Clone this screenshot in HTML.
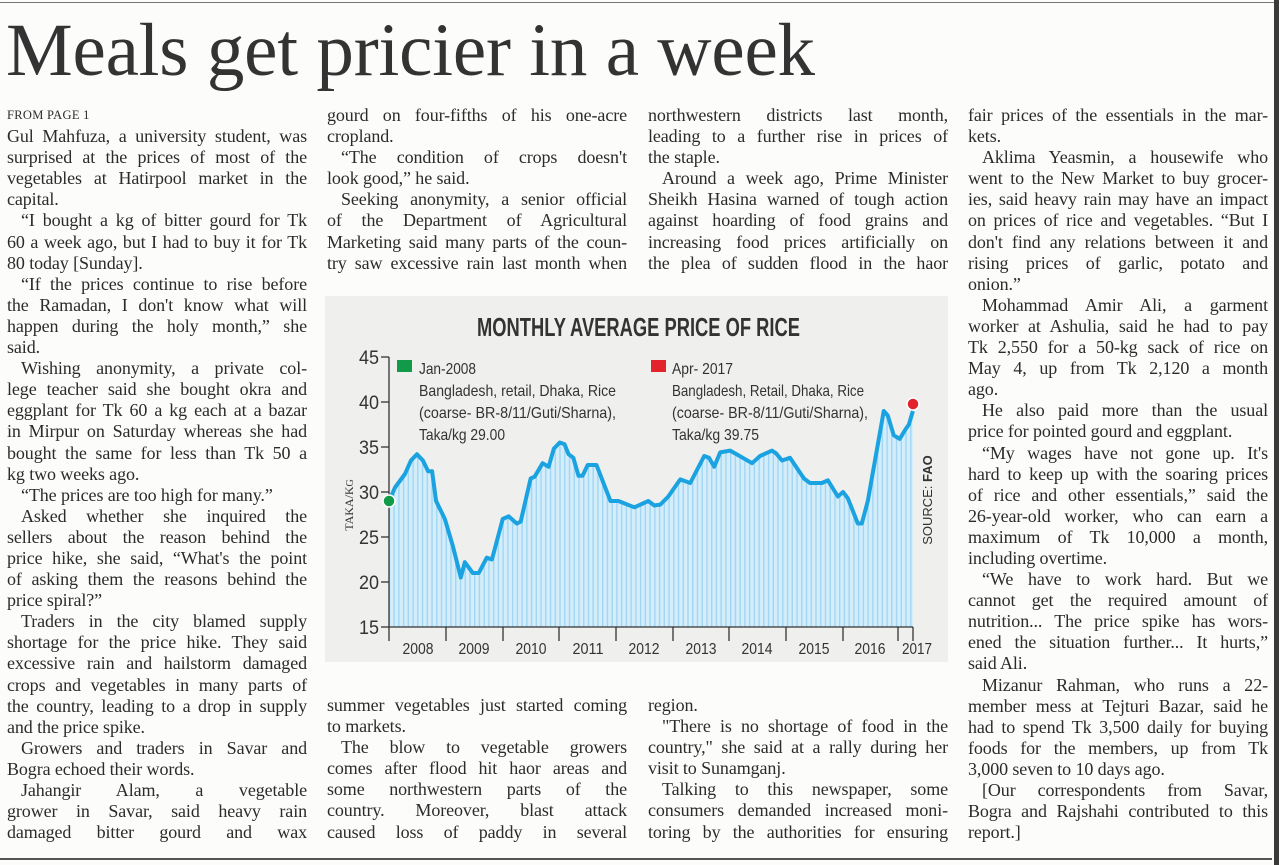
<!DOCTYPE html>
<html><head><meta charset="utf-8">
<style>
html,body{margin:0;padding:0;background:#fcfcfb;}
body{width:1279px;height:865px;position:relative;overflow:hidden;color:#2b2b2b;font-family:"Liberation Serif",serif;}
.h{position:absolute;left:6px;top:8px;font-size:75px;line-height:86px;color:#333;white-space:nowrap;letter-spacing:-0.2px;}
.col{position:absolute;width:300px;}
.l{height:21.1px;line-height:21.1px;font-size:18px;white-space:nowrap;text-align:justify;text-align-last:justify;letter-spacing:-0.1px;}
.e{text-align:left;text-align-last:left;}
.i{padding-left:14px;}
.fp{font-size:12.5px;letter-spacing:0.3px;}
.rule{position:absolute;background:#555;}
</style></head><body>
<div class="rule" style="left:0;top:2px;width:1279px;height:1px;background:#777"></div>
<div class="h">Meals get pricier in a week</div>

<div class="col" style="left:7px;top:105px">
<div class="l e fp">FROM PAGE 1</div>
<div class="l">Gul Mahfuza, a university student, was</div>
<div class="l">surprised at the prices of most of the</div>
<div class="l">vegetables at Hatirpool market in the</div>
<div class="l e">capital.</div>
<div class="l i">“I bought a kg of bitter gourd for Tk</div>
<div class="l">60 a week ago, but I had to buy it for Tk</div>
<div class="l e">80 today [Sunday].</div>
<div class="l i">“If the prices continue to rise before</div>
<div class="l">the Ramadan, I don't know what will</div>
<div class="l">happen during the holy month,” she</div>
<div class="l e">said.</div>
<div class="l i">Wishing anonymity, a private col-</div>
<div class="l">lege teacher said she bought okra and</div>
<div class="l">eggplant for Tk 60 a kg each at a bazar</div>
<div class="l">in Mirpur on Saturday whereas she had</div>
<div class="l">bought the same for less than Tk 50 a</div>
<div class="l e">kg two weeks ago.</div>
<div class="l e i">“The prices are too high for many.”</div>
<div class="l i">Asked whether she inquired the</div>
<div class="l">sellers about the reason behind the</div>
<div class="l">price hike, she said, “What's the point</div>
<div class="l">of asking them the reasons behind the</div>
<div class="l e">price spiral?”</div>
<div class="l i">Traders in the city blamed supply</div>
<div class="l">shortage for the price hike. They said</div>
<div class="l">excessive rain and hailstorm damaged</div>
<div class="l">crops and vegetables in many parts of</div>
<div class="l">the country, leading to a drop in supply</div>
<div class="l e">and the price spike.</div>
<div class="l i">Growers and traders in Savar and</div>
<div class="l e">Bogra echoed their words.</div>
<div class="l i">Jahangir Alam, a vegetable</div>
<div class="l">grower in Savar, said heavy rain</div>
<div class="l">damaged bitter gourd and wax</div>
</div>

<div class="col" style="left:327px;top:105px">
<div class="l">gourd on four-fifths of his one-acre</div>
<div class="l e">cropland.</div>
<div class="l i">“The condition of crops doesn't</div>
<div class="l e">look good,” he said.</div>
<div class="l i">Seeking anonymity, a senior official</div>
<div class="l">of the Department of Agricultural</div>
<div class="l">Marketing said many parts of the coun-</div>
<div class="l">try saw excessive rain last month when</div>
</div>
<div class="col" style="left:327px;top:695px">
<div class="l">summer vegetables just started coming</div>
<div class="l e">to markets.</div>
<div class="l i">The blow to vegetable growers</div>
<div class="l">comes after flood hit haor areas and</div>
<div class="l">some northwestern parts of the</div>
<div class="l">country. Moreover, blast attack</div>
<div class="l">caused loss of paddy in several</div>
</div>

<div class="col" style="left:648px;top:105px">
<div class="l">northwestern districts last month,</div>
<div class="l">leading to a further rise in prices of</div>
<div class="l e">the staple.</div>
<div class="l i">Around a week ago, Prime Minister</div>
<div class="l">Sheikh Hasina warned of tough action</div>
<div class="l">against hoarding of food grains and</div>
<div class="l">increasing food prices artificially on</div>
<div class="l">the plea of sudden flood in the haor</div>
</div>
<div class="col" style="left:648px;top:695px">
<div class="l e">region.</div>
<div class="l i">"There is no shortage of food in the</div>
<div class="l">country," she said at a rally during her</div>
<div class="l e">visit to Sunamganj.</div>
<div class="l i">Talking to this newspaper, some</div>
<div class="l">consumers demanded increased moni-</div>
<div class="l">toring by the authorities for ensuring</div>
</div>

<div class="col" style="left:968px;top:105px">
<div class="l">fair prices of the essentials in the mar-</div>
<div class="l e">kets.</div>
<div class="l i">Aklima Yeasmin, a housewife who</div>
<div class="l">went to the New Market to buy grocer-</div>
<div class="l">ies, said heavy rain may have an impact</div>
<div class="l">on prices of rice and vegetables. “But I</div>
<div class="l">don't find any relations between it and</div>
<div class="l">rising prices of garlic, potato and</div>
<div class="l e">onion.”</div>
<div class="l i">Mohammad Amir Ali, a garment</div>
<div class="l">worker at Ashulia, said he had to pay</div>
<div class="l">Tk 2,550 for a 50-kg sack of rice on</div>
<div class="l">May 4, up from Tk 2,120 a month</div>
<div class="l e">ago.</div>
<div class="l i">He also paid more than the usual</div>
<div class="l e">price for pointed gourd and eggplant.</div>
<div class="l i">“My wages have not gone up. It's</div>
<div class="l">hard to keep up with the soaring prices</div>
<div class="l">of rice and other essentials,” said the</div>
<div class="l">26-year-old worker, who can earn a</div>
<div class="l">maximum of Tk 10,000 a month,</div>
<div class="l e">including overtime.</div>
<div class="l i">“We have to work hard. But we</div>
<div class="l">cannot get the required amount of</div>
<div class="l">nutrition... The price spike has wors-</div>
<div class="l">ened the situation further... It hurts,”</div>
<div class="l e">said Ali.</div>
<div class="l i">Mizanur Rahman, who runs a 22-</div>
<div class="l">member mess at Tejturi Bazar, said he</div>
<div class="l">had to spend Tk 3,500 daily for buying</div>
<div class="l">foods for the members, up from Tk</div>
<div class="l e">3,000 seven to 10 days ago.</div>
<div class="l i">[Our correspondents from Savar,</div>
<div class="l">Bogra and Rajshahi contributed to this</div>
<div class="l e">report.]</div>
</div>

<div class="rule" style="left:0;top:858px;width:1272px;height:1.5px;"></div>
<div class="rule" style="left:1274px;top:0;width:5px;height:865px;background:#3a3a3a"></div>

<svg style="position:absolute;left:0;top:0" width="1279" height="865" viewBox="0 0 1279 865">
<defs>
<pattern id="st" x="0" y="0" width="4.74" height="10" patternUnits="userSpaceOnUse">
<rect width="4.74" height="10" fill="#d3edfb"/>
<rect width="1.4" height="10" fill="#a2d6f2"/>
</pattern>
<clipPath id="cp">
<polygon transform="translate(389,627) scale(0.399,-9) translate(-160,-15)" points="160,15 160,29 175,30.5 200,32 215,33.5 230,34.2 245,33.5 258,32.3 268,32.3 278,29 300,27 320,24 340,20.5 350,22.2 370,21 385,21 405,22.7 418,22.5 445,27 460,27.3 480,26.5 490,26.7 515,31.5 525,31.7 545,33.2 560,32.8 573,34.8 588,35.5 600,35.3 610,34.2 622,33.8 635,31.8 645,31.8 658,33 680,33 715,29 735,29 775,28.3 810,29 825,28.5 840,28.6 860,29.5 890,31.4 915,31 950,34 962,33.8 975,32.8 990,34.4 1015,34.6 1035,34.1 1070,33.2 1090,34 1120,34.6 1130,34.3 1145,33.5 1165,33.8 1200,31.5 1215,31 1245,31 1260,31.3 1285,29.5 1298,30 1310,29.3 1335,26.5 1345,26.5 1360,29 1400,39 1410,38.5 1425,36.3 1440,35.9 1455,37 1463,37.5 1473,39 1473,15"/>
</clipPath>
</defs>
<rect x="325" y="296" width="623" height="366" fill="#efefed"/>
<rect x="389" y="300" width="525" height="327" fill="url(#st)" clip-path="url(#cp)"/>
<polyline fill="none" stroke="#1aa3e0" stroke-width="4" stroke-linejoin="round" vector-effect="non-scaling-stroke" transform="translate(389,627) scale(0.399,-9) translate(-160,-15)" points="160,29 175,30.5 200,32 215,33.5 230,34.2 245,33.5 258,32.3 268,32.3 278,29 300,27 320,24 340,20.5 350,22.2 370,21 385,21 405,22.7 418,22.5 445,27 460,27.3 480,26.5 490,26.7 515,31.5 525,31.7 545,33.2 560,32.8 573,34.8 588,35.5 600,35.3 610,34.2 622,33.8 635,31.8 645,31.8 658,33 680,33 715,29 735,29 775,28.3 810,29 825,28.5 840,28.6 860,29.5 890,31.4 915,31 950,34 962,33.8 975,32.8 990,34.4 1015,34.6 1035,34.1 1070,33.2 1090,34 1120,34.6 1130,34.3 1145,33.5 1165,33.8 1200,31.5 1215,31 1245,31 1260,31.3 1285,29.5 1298,30 1310,29.3 1335,26.5 1345,26.5 1360,29 1400,39 1410,38.5 1425,36.3 1440,35.9 1455,37 1463,37.5 1473,39"/>
<g stroke="#333" stroke-width="1.3" fill="none">
<line x1="389" y1="357" x2="389" y2="627"/>
<line x1="389" y1="627" x2="913" y2="627"/>
<line x1="381" y1="357" x2="389" y2="357"/><line x1="381" y1="402" x2="389" y2="402"/>
<line x1="381" y1="447" x2="389" y2="447"/><line x1="381" y1="492" x2="389" y2="492"/>
<line x1="381" y1="537" x2="389" y2="537"/><line x1="381" y1="582" x2="389" y2="582"/>
<line x1="381" y1="627" x2="389" y2="627"/>
<line x1="389" y1="627" x2="389" y2="641"/><line x1="446" y1="627" x2="446" y2="641"/>
<line x1="503" y1="627" x2="503" y2="641"/><line x1="559" y1="627" x2="559" y2="641"/>
<line x1="616" y1="627" x2="616" y2="641"/><line x1="673" y1="627" x2="673" y2="641"/>
<line x1="729" y1="627" x2="729" y2="641"/><line x1="786" y1="627" x2="786" y2="641"/>
<line x1="843" y1="627" x2="843" y2="641"/><line x1="898" y1="627" x2="898" y2="641"/>
<line x1="913" y1="627" x2="913" y2="641"/>
</g>
<g font-family="Liberation Sans, sans-serif" fill="#333" font-size="19" text-anchor="end">
<text x="379" y="364" textLength="20" lengthAdjust="spacingAndGlyphs">45</text>
<text x="379" y="409" textLength="20" lengthAdjust="spacingAndGlyphs">40</text>
<text x="379" y="454" textLength="20" lengthAdjust="spacingAndGlyphs">35</text>
<text x="379" y="499" textLength="20" lengthAdjust="spacingAndGlyphs">30</text>
<text x="379" y="544" textLength="20" lengthAdjust="spacingAndGlyphs">25</text>
<text x="379" y="589" textLength="20" lengthAdjust="spacingAndGlyphs">20</text>
<text x="379" y="634" textLength="20" lengthAdjust="spacingAndGlyphs">15</text>
</g>
<g font-family="Liberation Sans, sans-serif" fill="#333" font-size="16" text-anchor="middle">
<text x="418" y="654" textLength="31" lengthAdjust="spacingAndGlyphs">2008</text>
<text x="474" y="654" textLength="31" lengthAdjust="spacingAndGlyphs">2009</text>
<text x="531" y="654" textLength="31" lengthAdjust="spacingAndGlyphs">2010</text>
<text x="588" y="654" textLength="31" lengthAdjust="spacingAndGlyphs">2011</text>
<text x="644" y="654" textLength="31" lengthAdjust="spacingAndGlyphs">2012</text>
<text x="701" y="654" textLength="31" lengthAdjust="spacingAndGlyphs">2013</text>
<text x="757" y="654" textLength="31" lengthAdjust="spacingAndGlyphs">2014</text>
<text x="814" y="654" textLength="31" lengthAdjust="spacingAndGlyphs">2015</text>
<text x="870" y="654" textLength="31" lengthAdjust="spacingAndGlyphs">2016</text>
<text x="917" y="654" textLength="30" lengthAdjust="spacingAndGlyphs">2017</text>
</g>
<text x="477" y="336" font-family="Liberation Sans, sans-serif" font-weight="bold" font-size="26" fill="#333" textLength="323" lengthAdjust="spacingAndGlyphs">MONTHLY AVERAGE PRICE OF RICE</text>
<text transform="translate(353,505) rotate(-90)" text-anchor="middle" font-family="Liberation Serif, serif" font-size="12" fill="#333">TAKA/K<tspan font-size="10">G</tspan></text>
<text transform="translate(932,500) rotate(-90)" text-anchor="middle" font-family="Liberation Sans, sans-serif" font-size="13" fill="#333">SOURCE: <tspan font-weight="bold">FAO</tspan></text>
<rect x="397" y="360" width="15" height="12" fill="#119a48"/>
<rect x="651" y="360" width="15" height="12" fill="#e2232b"/>
<g font-family="Liberation Sans, sans-serif" fill="#333" font-size="16">
<text x="419" y="374" textLength="57" lengthAdjust="spacingAndGlyphs">Jan-2008</text>
<text x="419" y="396" textLength="197" lengthAdjust="spacingAndGlyphs">Bangladesh, retail, Dhaka, Rice</text>
<text x="419" y="418" textLength="197" lengthAdjust="spacingAndGlyphs">(coarse- BR-8/11/Guti/Sharna),</text>
<text x="419" y="440" textLength="86" lengthAdjust="spacingAndGlyphs">Taka/kg 29.00</text>
<text x="672" y="374" textLength="61" lengthAdjust="spacingAndGlyphs">Apr- 2017</text>
<text x="672" y="396" textLength="192" lengthAdjust="spacingAndGlyphs">Bangladesh, Retail, Dhaka, Rice</text>
<text x="672" y="418" textLength="196" lengthAdjust="spacingAndGlyphs">(coarse- BR-8/11/Guti/Sharna),</text>
<text x="672" y="440" textLength="87" lengthAdjust="spacingAndGlyphs">Taka/kg 39.75</text>
</g>
<circle cx="389" cy="501" r="6" fill="#119a48" stroke="#fff" stroke-width="1.5"/>
<circle cx="913" cy="404" r="6" fill="#e2232b" stroke="#fff" stroke-width="1.5"/>
</svg>
</body></html>
